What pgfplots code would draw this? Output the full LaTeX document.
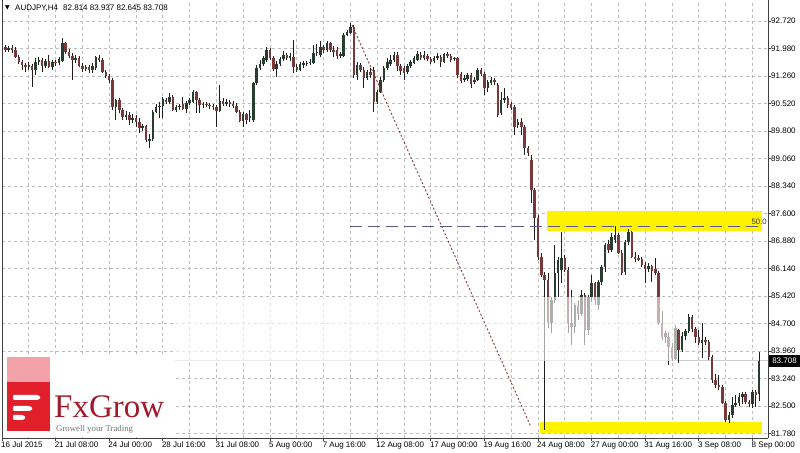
\documentclass[border=0pt]{standalone}
\usepackage{fontspec}
\setmainfont{Liberation Sans}
\newfontfamily\logofont{Liberation Serif}
\newfontfamily\symfont{DejaVu Sans}
\usepackage{pgfplots}
\usepackage{pgfplotstable}
\pgfplotsset{compat=1.18}

\definecolor{bull}{RGB}{40,60,48}
\definecolor{bear}{RGB}{122,56,56}
\definecolor{wick}{RGB}{30,30,30}
\definecolor{gridc}{RGB}{188,188,188}
\definecolor{bidc}{RGB}{205,205,205}
\definecolor{fibline}{RGB}{135,60,60}
\definecolor{fiblvl}{RGB}{90,90,135}
\definecolor{fxred}{RGB}{226,32,44}
\definecolor{fxpink}{RGB}{244,162,170}
\definecolor{fxtext}{RGB}{160,28,42}

% AUDJPY H4 candles, bar index from 16 Jul 16:00
\pgfplotstableread{
i O H L C
0 91.77 92.11 91.69 92.03
1 92.03 92.08 91.90 91.95
2 91.95 92.05 91.90 92.00
3 92.00 92.08 91.87 91.95
4 91.95 92.03 91.74 91.77
5 91.77 91.82 91.58 91.63
6 91.63 91.69 91.42 91.55
7 91.55 91.61 91.37 91.50
8 91.50 91.63 91.42 91.55
9 91.53 91.58 90.97 91.42
10 91.42 91.74 91.29 91.63
11 91.63 91.77 91.55 91.69
12 91.69 91.74 91.37 91.53
13 91.53 91.71 91.47 91.66
14 91.66 91.82 91.47 91.50
15 91.50 91.69 91.42 91.63
16 91.63 91.69 91.53 91.61
17 91.61 91.77 91.55 91.71
18 91.66 92.27 91.63 92.13
19 92.13 92.16 91.85 91.90
20 91.90 91.98 91.74 91.79
21 91.79 91.87 91.15 91.69
22 91.69 91.82 91.61 91.74
23 91.74 91.79 91.50 91.53
24 91.53 91.61 91.37 91.45
25 91.45 91.55 91.40 91.50
26 91.50 91.55 91.34 91.42
27 91.42 91.61 91.34 91.53
28 91.47 91.79 91.42 91.77
29 91.74 91.82 91.63 91.69
30 91.69 91.74 91.34 91.37
31 91.37 91.42 91.21 91.26
32 91.26 91.31 91.08 91.15
33 91.15 91.21 90.36 90.44
34 90.44 90.65 90.09 90.63
35 90.63 90.68 90.28 90.36
36 90.36 90.41 90.09 90.17
37 90.17 90.33 90.09 90.23
38 90.23 90.31 89.96 90.09
39 90.09 90.25 90.01 90.15
40 90.15 90.23 89.91 90.04
41 90.04 90.15 89.75 89.88
42 89.88 89.99 89.80 89.93
43 89.93 89.96 89.51 89.56
44 89.56 89.72 89.35 89.59
45 89.59 90.36 89.54 90.31
46 90.31 90.52 90.28 90.44
47 90.44 90.57 90.15 90.47
48 90.47 90.70 90.15 90.65
49 90.63 90.68 90.52 90.57
50 90.57 90.81 90.52 90.70
51 90.70 90.76 90.33 90.36
52 90.36 90.49 90.31 90.44
53 90.44 90.52 90.36 90.47
54 90.52 90.70 90.36 90.39
55 90.39 90.60 90.28 90.55
56 90.55 90.68 90.49 90.63
57 90.57 90.89 90.55 90.84
58 90.84 90.86 90.28 90.63
59 90.63 90.68 90.28 90.49
60 90.49 90.57 90.41 90.52
61 90.52 90.57 90.44 90.49
62 90.49 90.55 90.39 90.47
63 90.47 90.52 90.36 90.44
64 90.44 90.49 89.91 90.33
65 90.33 91.02 90.31 90.60
66 90.60 90.68 90.47 90.52
67 90.52 90.65 90.47 90.57
68 90.57 90.63 90.44 90.52
69 90.52 90.60 90.41 90.47
70 90.47 90.55 90.28 90.31
71 90.31 90.36 90.04 90.07
72 90.07 90.31 89.91 90.25
73 90.25 90.28 89.99 90.09
74 90.15 90.36 90.04 90.20
75 90.09 91.10 90.04 91.08
76 91.08 91.55 91.02 91.47
77 91.47 91.69 91.42 91.58
78 91.58 91.79 91.53 91.74
79 91.69 92.03 91.63 91.95
80 91.95 92.00 91.69 91.74
81 91.74 91.79 91.40 91.45
82 91.45 91.66 91.23 91.58
83 91.58 91.77 91.53 91.71
84 91.71 91.93 91.66 91.82
85 91.82 91.87 91.69 91.74
86 91.74 91.87 91.66 91.79
87 91.77 92.22 91.34 91.50
88 91.50 91.58 91.37 91.42
89 91.42 91.63 91.40 91.58
90 91.55 91.66 91.47 91.61
91 91.58 91.66 91.53 91.61
92 91.61 91.71 91.55 91.63
93 91.61 92.08 91.58 91.87
94 91.87 92.11 91.79 91.90
95 91.82 92.19 91.77 92.03
96 92.03 92.08 91.87 91.95
97 91.95 92.19 91.90 92.13
98 92.13 92.16 91.90 91.95
99 91.95 92.05 91.77 91.90
100 91.95 92.03 91.71 91.79
101 91.79 91.90 91.74 91.85
102 91.79 92.40 91.77 92.35
103 92.35 92.48 92.32 92.43
104 92.40 92.67 92.37 92.56
105 92.56 92.61 91.21 91.29
106 91.29 91.63 91.15 91.55
107 91.55 91.61 91.37 91.42
108 91.42 91.50 90.94 91.21
109 91.21 91.42 91.15 91.37
110 91.37 91.47 91.21 91.29
111 91.42 91.50 90.31 90.57
112 90.57 90.89 90.52 90.84
113 90.84 91.23 90.81 91.15
114 91.15 91.53 91.10 91.47
115 91.47 91.74 91.42 91.63
116 91.58 91.82 91.53 91.69
117 91.69 91.90 91.63 91.82
118 91.82 91.90 91.40 91.53
119 91.53 91.58 91.29 91.40
120 91.47 91.53 91.15 91.34
121 91.37 91.58 91.31 91.53
122 91.53 91.69 91.47 91.63
123 91.61 91.79 91.58 91.74
124 91.69 91.93 91.66 91.85
125 91.82 91.90 91.69 91.74
126 91.74 91.93 91.69 91.82
127 91.79 91.85 91.66 91.71
128 91.71 91.77 91.58 91.63
129 91.66 91.79 91.61 91.74
130 91.74 91.87 91.69 91.79
131 91.77 91.82 91.50 91.63
132 91.63 91.87 91.61 91.85
133 91.85 91.90 91.74 91.79
134 91.79 91.85 91.63 91.69
135 91.71 91.77 91.66 91.74
136 91.74 91.77 91.21 91.29
137 91.31 91.37 91.08 91.13
138 91.15 91.29 91.10 91.21
139 91.18 91.34 91.13 91.29
140 91.29 91.34 90.94 91.05
141 91.10 91.23 91.05 91.15
142 91.15 91.47 91.13 91.42
143 91.42 91.47 91.26 91.31
144 91.31 91.37 90.76 90.94
145 90.94 91.15 90.84 91.10
146 91.08 91.23 91.02 91.15
147 91.15 91.21 91.02 91.10
148 91.02 91.08 90.17 90.23
149 90.28 90.84 90.23 90.63
150 90.63 90.94 90.55 90.68
151 90.68 90.73 90.41 90.49
152 90.52 90.57 90.36 90.41
153 90.44 90.49 89.70 89.91
154 89.96 90.12 89.88 90.04
155 90.04 90.15 89.70 89.91
156 89.91 89.96 89.17 89.35
157 89.35 89.40 89.14 89.22
158 89.03 89.17 87.89 88.24
159 88.24 88.29 86.91 87.49
160 87.49 87.57 86.38 86.46
161 86.46 86.57 85.93 85.98
162 85.98 86.06 81.87 85.85
163 85.85 86.04 84.58 84.71
164 84.71 85.40 84.44 85.32
165 85.32 86.78 85.24 86.04
166 86.04 86.46 85.40 86.38
167 86.12 87.12 85.77 86.43
168 86.43 86.51 86.06 86.12
169 86.12 86.19 84.44 84.71
170 84.71 85.58 84.13 84.60
171 84.60 85.24 84.44 85.19
172 85.19 85.32 84.79 84.95
173 84.95 85.58 84.90 85.45
174 85.45 85.50 84.13 84.52
175 84.52 85.45 84.39 85.40
176 85.40 85.98 85.27 85.77
177 85.77 85.80 85.19 85.32
178 85.19 85.85 85.05 85.80
179 85.80 86.25 85.72 86.19
180 86.19 86.83 86.06 86.78
181 86.80 86.91 86.57 86.65
182 86.65 87.09 86.60 86.99
183 86.91 87.28 86.83 87.04
184 87.04 87.09 86.54 86.57
185 86.57 86.65 85.98 86.04
186 86.06 86.91 85.98 86.86
187 86.86 87.20 86.78 87.12
188 87.12 87.15 86.43 86.46
189 86.46 86.60 86.33 86.43
190 86.43 86.51 86.36 86.41
191 86.41 86.46 86.19 86.25
192 86.25 86.33 85.77 86.14
193 86.14 86.30 86.06 86.22
194 86.22 86.25 85.80 86.09
195 86.14 86.43 85.98 86.04
196 86.04 86.09 84.66 84.71
197 84.71 85.03 84.26 84.34
198 84.34 84.50 84.18 84.44
199 84.34 84.47 83.60 84.07
200 84.07 84.18 83.70 83.76
201 83.76 84.66 83.73 84.58
202 84.52 84.55 83.65 83.99
203 83.99 84.47 83.94 84.36
204 84.36 84.55 84.26 84.50
205 84.50 84.95 84.44 84.87
206 84.87 84.92 84.47 84.55
207 84.55 84.60 84.18 84.34
208 84.34 84.52 84.13 84.18
209 84.18 84.71 83.78 84.26
210 84.26 84.34 84.13 84.21
211 84.21 84.26 83.73 83.81
212 83.81 83.86 83.12 83.20
213 83.20 83.36 82.98 83.06
214 83.06 83.33 82.93 83.01
215 83.01 83.06 82.56 82.59
216 82.59 82.64 82.08 82.14
217 82.14 82.35 82.06 82.27
218 82.27 82.75 82.19 82.53
219 82.53 82.80 82.48 82.59
220 82.59 82.85 82.51 82.75
221 82.75 82.88 82.56 82.83
222 82.83 82.88 82.56 82.62
223 82.62 82.67 82.48 82.56
224 82.56 82.93 82.45 82.88
225 82.88 82.93 82.48 82.81
226 82.814 83.937 82.645 83.708
}\candles

\begin{document}
\begin{tikzpicture}[x=1bp,y=1bp]
\useasboundingbox (0,0) rectangle (800,453);
\fill[white] (0,0) rectangle (800,453);
\begin{axis}[
  at={(2bp,15bp)}, anchor=south west,
  scale only axis, width=766bp, height=438bp,
  xmin=0, xmax=228.66, ymin=81.659, ymax=93.277,
  axis x line*=bottom, axis y line*=right,
  axis line style={-, draw=black!75, line width=0.8bp},
  xtick={0,16,...,224},
  xticklabels={16 Jul 2015, 21 Jul 08:00, 24 Jul 00:00, 28 Jul 16:00, 31 Jul 08:00, 5 Aug 00:00, 7 Aug 16:00, 12 Aug 08:00, 17 Aug 00:00, 19 Aug 16:00, 24 Aug 08:00, 27 Aug 00:00, 31 Aug 16:00, 3 Sep 08:00, 8 Sep 00:00},
  minor xtick={8,24,...,216},
  ytick={92.72,91.990667,91.261333,90.532,89.802667,89.073333,88.344,87.614667,86.885333,86.156,85.426667,84.697333,83.968,83.238667,82.509333,81.78},
  yticklabels={92.720,91.980,91.260,90.520,89.800,89.060,88.340,87.600,86.880,86.140,85.420,84.700,83.960,83.240,82.500,81.780},
  xmajorgrids, xminorgrids, ymajorgrids,
  grid style={gridc, dash pattern=on 3bp off 3bp, line width=0.75bp},
  minor grid style={gridc, dash pattern=on 3bp off 3bp, line width=0.75bp},
  tick align=outside, major tick length=3bp, minor tick length=0pt,
  tick style={black!75, line width=0.7bp},
  xticklabel style={anchor=north west, inner sep=0pt, xshift=-1bp, yshift=-1bp, font=\fontsize{8bp}{9bp}\selectfont},
  yticklabel style={anchor=west, inner sep=0pt, xshift=0bp, font=\fontsize{8bp}{9bp}\selectfont},
]
% highlighted zones
\fill[yellow] (axis cs:162.7,87.15) rectangle (axis cs:226.9,87.68);
\fill[yellow] (axis cs:160.6,81.79) rectangle (axis cs:226.9,82.08);
% bid line
\draw[bidc, line width=0.8bp] (axis cs:51.6,83.708) -- (axis cs:228.66,83.708);
% wicks
\addplot[mark=none, draw=none, forget plot,
  error bars/.cd, y dir=plus, y explicit, error mark=none,
  error bar style={draw=wick, line width=0.85bp}]
  table[x=i, y=L, y error expr=\thisrow{H}-\thisrow{L}] {\candles};
% bull bodies
\addplot[mark=none, draw=none, forget plot, unbounded coords=discard,
  error bars/.cd, y dir=both, y explicit, error mark=none,
  error bar style={draw=bull, line width=2.5bp}]
  table[x=i, y expr={\thisrow{C}>=\thisrow{O} ? 0.5*(\thisrow{O}+\thisrow{C}) : nan},
        y error expr={max(0.5*abs(\thisrow{C}-\thisrow{O}),0.012)}] {\candles};
% bear bodies
\addplot[mark=none, draw=none, forget plot, unbounded coords=discard,
  error bars/.cd, y dir=both, y explicit, error mark=none,
  error bar style={draw=bear, line width=2.5bp}]
  table[x=i, y expr={\thisrow{C}<\thisrow{O} ? 0.5*(\thisrow{O}+\thisrow{C}) : nan},
        y error expr={max(0.5*abs(\thisrow{C}-\thisrow{O}),0.012)}] {\candles};
% washed band under the watermark
\fill[white, opacity=0.6] (axis cs:51.6,83.71) rectangle (axis cs:201.5,85.40);
% fibonacci tool
\draw[fibline, line width=0.9bp, dash pattern=on 2bp off 2bp] (axis cs:104.5,92.61) -- (axis cs:157.9,81.95);
\draw[fiblvl, line width=1bp, dash pattern=on 12bp off 6bp] (axis cs:103.9,87.28) -- (axis cs:226.9,87.28);
\node[anchor=south east, inner sep=0.5bp, text=fiblvl!60!black, font=\fontsize{7.8bp}{8bp}\selectfont] at (axis cs:228.5,87.30) {50.0};
\end{axis}
% left border
\draw[black!75, line width=0.8bp] (2,15) -- (2,453);
% header
\node[anchor=center, inner sep=0pt, font=\symfont\fontsize{6bp}{7bp}\selectfont] at (7.5,445) {▼};
\node[anchor=base west, inner sep=0pt, font=\fontsize{8bp}{9bp}\selectfont] at (15,442) {AUDJPY,H4};
\node[anchor=base west, inner sep=0pt, font=\fontsize{8bp}{9bp}\selectfont] at (63,442) {82.814 83.937 82.645 83.708};
% bid price box
\fill[black] (769,86) rectangle (800,98);
\node[anchor=center, inner sep=0pt, text=white, font=\fontsize{8bp}{9bp}\selectfont] at (784.5,92) {83.708};
% watermark logo
\fill[white] (3,15.6) rectangle (175,98);
\fill[fxpink] (7,71) rectangle (50,96);
\fill[fxred] (7,22) rectangle (50,71);
\fill[white, rounded corners=1bp] (13,53) -- (38,53) -- (41,55.5) -- (38,58) -- (13,58) -- cycle;
\fill[white, rounded corners=1bp] (13,42) -- (30,42) -- (33,44.5) -- (30,47) -- (13,47) -- cycle;
\fill[white, rounded corners=1bp] (13,33) -- (23,33) -- (26,35.5) -- (23,38) -- (13,38) -- cycle;
\node[anchor=base west, inner sep=0pt, text=fxtext, font=\logofont\fontsize{33bp}{35bp}\selectfont] at (54,35) {FxGrow};
\node[anchor=base west, inner sep=0pt, text=black!55, font=\logofont\fontsize{8.8bp}{10bp}\selectfont] at (56,21.5) {Growell your Trading};
\end{tikzpicture}
\end{document}
